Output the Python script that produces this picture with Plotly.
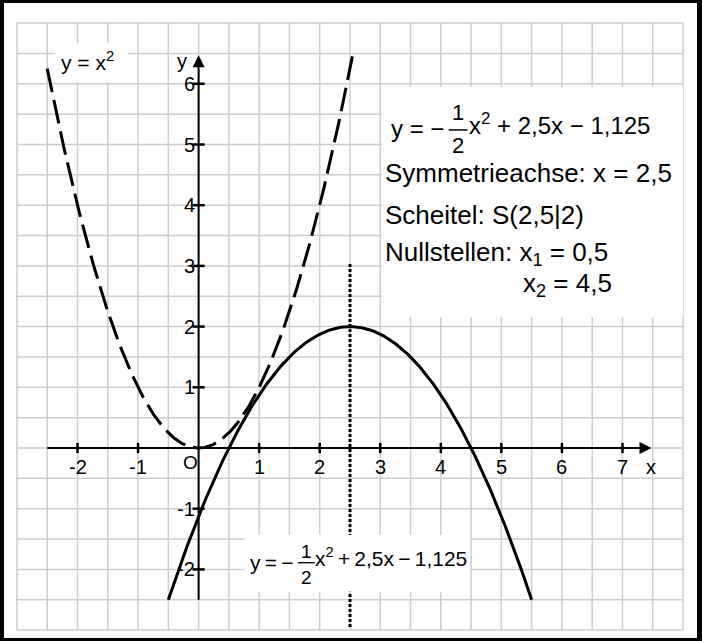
import numpy as np
import plotly.graph_objects as go

# parabola coefficients (y = a*x^2 + b*x + c)
normal_coef = (1.0, 0.0, 0.0)          # y = x^2
main_coef = (-0.5, 2.5, -1.125)        # y = -1/2 x^2 + 2,5x - 1,125
normal_x_range = (-2.5, 2.55)
main_x_range = (-0.5, 5.5)

vertex_x = 2.5
sym_line_y = (-2.95, 3.06)

x_ticks = [-2, -1, 1, 2, 3, 4, 5, 6, 7]
y_ticks = [-2, -1, 1, 2, 3, 4, 5, 6]
x_tick_labels = ["-2", "-1", "1", "2", "3", "4", "5", "6", "7"]
y_tick_labels = ["-2", "-1", "1", "2", "3", "4", "5", "6"]

grid_x = [-3 + 0.5 * i for i in range(23)]
grid_y = [-3 + 0.5 * i for i in range(21)]

x_axis_span = (-2.5, 7.48)
y_axis_span = (-2.5, 6.47)

FONT = "Liberation Sans, Arial, sans-serif"
GRID = "#cdcdcd"


def parabola(coef, xr, n=300):
    xs = np.linspace(xr[0], xr[1], n)
    a, b, c = coef
    return xs, a * xs ** 2 + b * xs + c


fig = go.Figure()

shapes = []
for gx in grid_x:
    shapes.append(dict(type="line", x0=gx, x1=gx, y0=grid_y[0], y1=grid_y[-1],
                       line=dict(color=GRID, width=1.5), layer="below"))
for gy in grid_y:
    shapes.append(dict(type="line", x0=grid_x[0], x1=grid_x[-1], y0=gy, y1=gy,
                       line=dict(color=GRID, width=1.5), layer="below"))

# white backgrounds behind the labels
shapes.append(dict(type="rect", x0=-2.37, x1=-1.17, y0=6.03, y1=6.67,
                   fillcolor="white", line_width=0, layer="below"))
shapes.append(dict(type="rect", x0=3.03, x1=8.0, y0=2.16, y1=5.95,
                   fillcolor="white", line_width=0, layer="below"))

# axes
shapes.append(dict(type="line", x0=x_axis_span[0], x1=x_axis_span[1] - 0.1, y0=0, y1=0,
                   line=dict(color="black", width=2), layer="below"))
shapes.append(dict(type="line", x0=0, x1=0, y0=y_axis_span[0], y1=y_axis_span[1] - 0.1,
                   line=dict(color="black", width=2), layer="below"))
for tx in x_ticks:
    shapes.append(dict(type="line", x0=tx, x1=tx, y0=-0.085, y1=0.085,
                       line=dict(color="black", width=2.5), layer="below"))
for ty in y_ticks:
    shapes.append(dict(type="line", x0=-0.1, x1=0.1, y0=ty, y1=ty,
                       line=dict(color="black", width=2.5), layer="below"))

# box behind the lower formula (covers the dotted line)
shapes.append(dict(type="rect", x0=0.76, x1=4.48, y0=-2.37, y1=-1.43,
                   fillcolor="white", line_width=0, layer="above"))

# fraction bars
shapes.append(dict(type="line", x0=4.13, x1=4.44, y0=5.24, y1=5.24,
                   line=dict(color="black", width=1.5), layer="above"))
shapes.append(dict(type="line", x0=1.64, x1=1.92, y0=-1.89, y1=-1.89,
                   line=dict(color="black", width=1.3), layer="above"))

# symmetry axis
fig.add_trace(go.Scatter(x=[vertex_x, vertex_x], y=list(sym_line_y), mode="lines",
                         line=dict(color="black", width=3, dash="3px,2px"),
                         showlegend=False, hoverinfo="skip"))

xs, ys = parabola(normal_coef, normal_x_range)
fig.add_trace(go.Scatter(x=xs, y=ys, mode="lines",
                         line=dict(color="black", width=3, dash="24px,8px"),
                         showlegend=False, hoverinfo="skip"))
xs, ys = parabola(main_coef, main_x_range)
fig.add_trace(go.Scatter(x=xs, y=ys, mode="lines",
                         line=dict(color="black", width=3),
                         showlegend=False, hoverinfo="skip"))

# arrow heads
fig.add_trace(go.Scatter(x=[x_axis_span[1]], y=[0], mode="markers",
                         marker=dict(symbol="arrow-right", size=12, color="black"),
                         showlegend=False, hoverinfo="skip"))
fig.add_trace(go.Scatter(x=[0], y=[y_axis_span[1]], mode="markers",
                         marker=dict(symbol="arrow-up", size=12, color="black"),
                         showlegend=False, hoverinfo="skip"))

ann = []


def label(x, y, text, size, xanchor="center", yanchor="middle"):
    ann.append(dict(x=x, y=y, text=text, showarrow=False, xanchor=xanchor, yanchor=yanchor,
                    font=dict(family=FONT, size=size, color="black"),
                    borderpad=0, borderwidth=0))


for tx, tl in zip(x_ticks, x_tick_labels):
    label(tx, -0.31, tl, 20)
for ty, tl in zip(y_ticks, y_tick_labels):
    label(-0.06, ty, tl, 20, xanchor="right")
label(-0.14, -0.24, "O", 19)
label(-0.27, 6.38, "y", 20)
label(7.47, -0.31, "x", 20)

label(-2.27, 6.38, "y = x<sup>2</sup>", 21, xanchor="left")

# upper formula and properties
label(3.18, 5.27, "y = −", 24, xanchor="left")
label(4.285, 5.52, "1", 22)
label(4.285, 4.98, "2", 22)
label(4.47, 5.33, "x<sup>2</sup> + 2,5x − 1,125", 24, xanchor="left")
label(3.08, 4.53, "Symmetrieachse: x = 2,5", 26, xanchor="left")
label(3.08, 3.84, "Scheitel: S(2,5|2)", 26, xanchor="left")
label(3.08, 3.21, "Nullstellen: x<sub>1</sub> = 0,5", 26, xanchor="left")
label(5.36, 2.70, "x<sub>2</sub> = 4,5", 26, xanchor="left")

# lower formula
label(0.85, -1.88, "y\u2009=\u2009−", 21, xanchor="left")
label(1.78, -1.71, "1", 19)
label(1.78, -2.13, "2", 19)
label(1.92, -1.80, "x<sup>2</sup>\u2009+\u20092,5x\u2009−\u20091,125", 21, xanchor="left")

fig.update_layout(
    width=702, height=641,
    margin=dict(l=4, r=5, t=3, b=3),
    paper_bgcolor="black", plot_bgcolor="white",
    xaxis=dict(range=[-3.214, 8.231], visible=False, fixedrange=True),
    yaxis=dict(range=[-3.130, 7.331], visible=False, fixedrange=True),
    shapes=shapes, annotations=ann, showlegend=False,
)

fig.write_html("out.html", config={"displayModeBar": False},
               post_script="document.body.style.margin='0';")
